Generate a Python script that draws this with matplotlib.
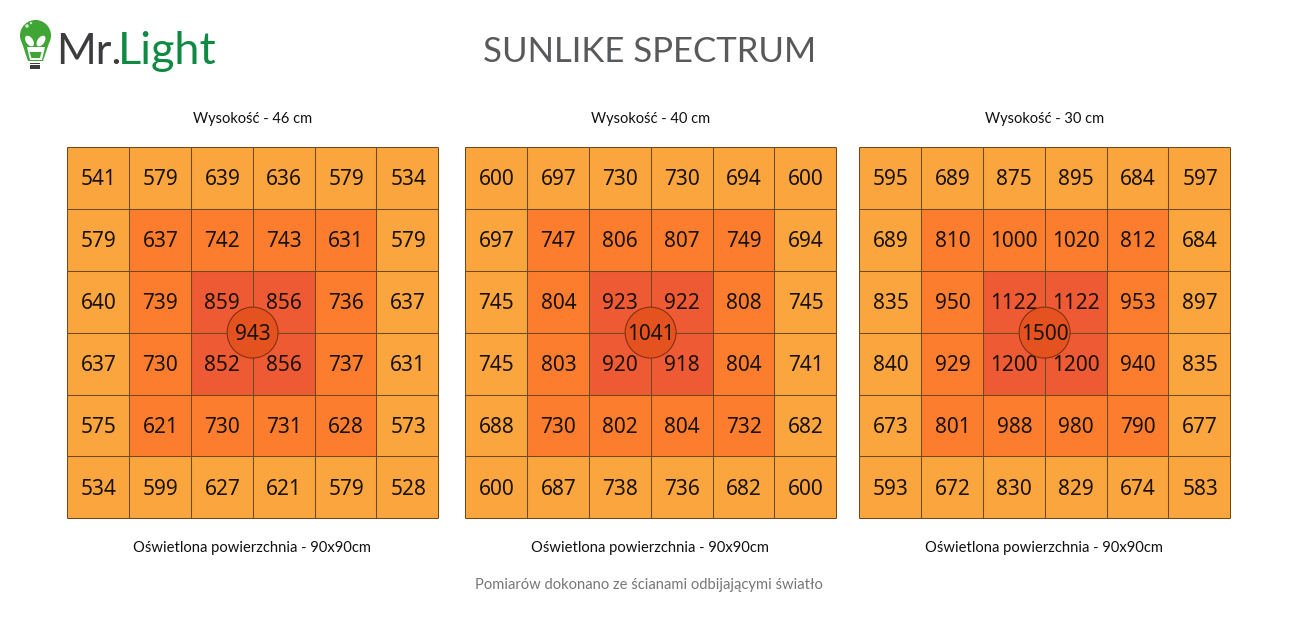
import matplotlib
matplotlib.use("Agg")
import matplotlib.pyplot as plt
from matplotlib.colors import ListedColormap
from matplotlib.patches import Circle, Ellipse, Polygon, Rectangle
import numpy as np

title = "SUNLIKE SPECTRUM"
footer = "Pomiarów dokonano ze ścianami odbijającymi światło"
area_label = "Oświetlona powierzchnia - 90x90cm"
heights = ["Wysokość - 46 cm", "Wysokość - 40 cm", "Wysokość - 30 cm"]

grid_46 = [[541, 579, 639, 636, 579, 534],
           [579, 637, 742, 743, 631, 579],
           [640, 739, 859, 856, 736, 637],
           [637, 730, 852, 856, 737, 631],
           [575, 621, 730, 731, 628, 573],
           [534, 599, 627, 621, 579, 528]]
grid_40 = [[600, 697, 730, 730, 694, 600],
           [697, 747, 806, 807, 749, 694],
           [745, 804, 923, 922, 808, 745],
           [745, 803, 920, 918, 804, 741],
           [688, 730, 802, 804, 732, 682],
           [600, 687, 738, 736, 682, 600]]
grid_30 = [[595, 689, 875, 895, 684, 597],
           [689, 810, 1000, 1020, 812, 684],
           [835, 950, 1122, 1122, 953, 897],
           [840, 929, 1200, 1200, 940, 835],
           [673, 801, 988, 980, 790, 677],
           [593, 672, 830, 829, 674, 583]]
grids = [grid_46, grid_40, grid_30]
centers = [943, 1041, 1500]

W, H = 1300, 626
zone_colors = ["#FBA53F", "#FD7D2E", "#EE5A33"]
line_color = "#6E4A1E"
circle_color = "#E4521F"
panel_lefts = [66.8, 464.8, 858.8]
panel_size = 371.6
panel_top = 146.8

LATO = ["Lato", "DejaVu Sans"]
NUM = ["Noto Sans", "DejaVu Sans"]
NUM_DX = 0.7 / 62
NUM_DY = 2.0 / 62

fig = plt.figure(figsize=(W / 100, H / 100), dpi=100, facecolor="white")
bg = fig.add_axes([0, 0, 1, 1])
bg.set_xlim(0, W)
bg.set_ylim(H, 0)
bg.axis("off")

zones = np.array([[2 - max(abs(2 * i - 5), abs(2 * j - 5)) // 2 for j in range(6)] for i in range(6)])
cmap = ListedColormap(zone_colors)

for left, grid, center, height in zip(panel_lefts, grids, centers, heights):
    ax = fig.add_axes([left / W, 1 - (panel_top + panel_size) / H, panel_size / W, panel_size / H])
    ax.pcolormesh(np.arange(7), np.arange(7), zones, cmap=cmap, vmin=-0.5, vmax=2.5,
                  edgecolors="none", linewidth=0, antialiased=False)
    edge = np.arange(7)
    ax.vlines(edge, 0, 6, color=line_color, linewidth=0.75, clip_on=False, zorder=2)
    ax.hlines(edge, 0, 6, color=line_color, linewidth=0.75, clip_on=False, zorder=2)
    ax.set_xlim(0, 6)
    ax.set_ylim(6, 0)
    ax.axis("off")
    for i, row in enumerate(grid):
        for j, v in enumerate(row):
            ax.text(j + 0.5 + NUM_DX, i + 0.5 + NUM_DY, str(v), ha="center", va="center", fontsize=15,
                    family=NUM, color="#1a1208")
    ax.add_patch(Circle((3, 3), 25.5 / 62, facecolor=circle_color, edgecolor="#7A2A10",
                        linewidth=0.7, zorder=3))
    ax.text(3 + NUM_DX, 3 + NUM_DY, str(center), ha="center", va="center", fontsize=15, family=NUM,
            color="#1a1208", zorder=4)
    mid = left + panel_size / 2
    bg.text(mid + 0.4, 118.5, height, ha="center", va="center", fontsize=10.5, family=LATO, color="#111111")
    bg.text(mid - 1, 548, area_label, ha="center", va="center", fontsize=10.65, family=LATO, color="#111111")

bg.text(650, 52.5, title, ha="center", va="center", fontsize=25, family=LATO, color="#58595B")
bg.text(649, 584.5, footer, ha="center", va="center", fontsize=10.65, family=LATO, color="#777777")

# logo
green = "#3FA535"
bg.text(56, 52, "Mr.", ha="left", va="center", fontsize=31, family=LATO, color="#3C3C3E")
bg.text(118, 52, "Light", ha="left", va="center", fontsize=32.5, family=LATO, color="#0E8A43")
bg.add_patch(Circle((35.5, 35.5), 15.5, facecolor=green, edgecolor="none"))
bg.add_patch(Polygon([(22, 43), (49, 43), (43, 61), (28, 61)], closed=True, facecolor=green, edgecolor="none"))
bg.add_patch(Polygon([(27, 47), (45, 47), (42, 60), (30, 60)], closed=True, facecolor="white", edgecolor="none"))
bg.add_patch(Polygon([(29.5, 52), (41.5, 52), (40, 58), (31.5, 58)], closed=True, facecolor=green, edgecolor="none"))
bg.add_patch(Ellipse((29.5, 41), 7, 12, angle=-35, facecolor="white", edgecolor="none"))
bg.add_patch(Ellipse((41, 41), 7, 12, angle=35, facecolor="white", edgecolor="none"))
bg.add_patch(Circle((27, 26), 1.8, facecolor="#CFE8C5", edgecolor="none"))
bg.add_patch(Circle((31, 23), 1.2, facecolor="#CFE8C5", edgecolor="none"))
for y in (63.5, 65.8, 68):
    bg.add_patch(Rectangle((30, y - 0.8), 10, 1.6, facecolor="#3C3C3E", edgecolor="none"))

fig.savefig("out.png", dpi=100, facecolor="white")
